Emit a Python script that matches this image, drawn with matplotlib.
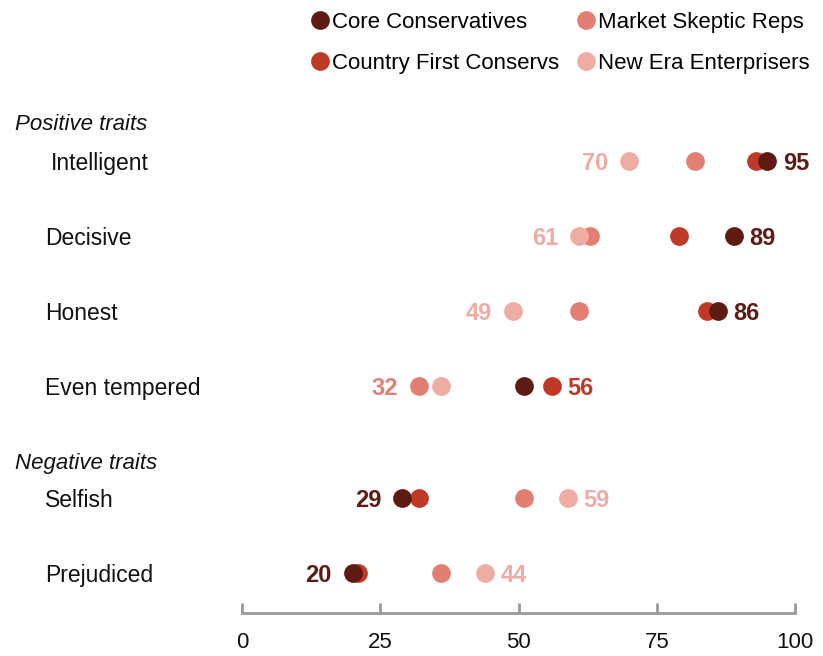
import matplotlib.pyplot as plt
from matplotlib.lines import Line2D
from matplotlib.transforms import blended_transform_factory

plt.rcParams['font.family'] = ['Liberation Sans', 'DejaVu Sans']

traits = ["Intelligent", "Decisive", "Honest", "Even tempered", "Selfish", "Prejudiced"]
groups = ["Core Conservatives", "Country First Conservs", "Market Skeptic Reps", "New Era Enterprisers"]
colors = ["#5e1a13", "#be3a26", "#e37f72", "#eeaca3"]

core = [95, 89, 86, 51, 29, 20]
country_first = [93, 79, 84, 56, 32, 21]
market_skeptic = [82, 63, 61, 32, 51, 36]
new_era = [70, 61, 49, 36, 59, 44]
values = [core, country_first, market_skeptic, new_era]

# row positions: positive block, then a gap before negative block
ypos = [0, 1, 2, 3, 4.5, 5.5]
headers = [("Positive traits", -0.52), ("Negative traits", 4.0)]

fig = plt.figure(figsize=(8.23, 6.56), dpi=100)
ax = fig.add_axes([242 / 823, 43 / 656, 553 / 823, 513 / 656])

draw_order = [2, 3, 1, 0]
for z, g in enumerate(draw_order):
    ax.plot(values[g], ypos, "o", color=colors[g], markersize=13.5,
            markeredgewidth=0, linestyle="none", zorder=3 + z)

# value labels: lowest on the left, highest on the right
for i in range(len(traits)):
    row = [v[i] for v in values]
    lo = row.index(min(row))
    hi = row.index(max(row))
    ax.annotate(str(row[lo]), (row[lo], ypos[i]), xytext=(-15, 0), textcoords="offset points",
                ha="right", va="center_baseline", fontsize=17, fontweight="bold", color=colors[lo])
    ax.annotate(str(row[hi]), (row[hi], ypos[i]), xytext=(11, 0), textcoords="offset points",
                ha="left", va="center_baseline", fontsize=17, fontweight="bold", color=colors[hi])

trans = blended_transform_factory(fig.transFigure, ax.transData)
for i, t in enumerate(traits):
    x = 51 / 823 if t == "Intelligent" else 45 / 823
    ax.text(x, ypos[i], t, transform=trans, ha="left", va="center_baseline",
            fontsize=16.5, color="#111111")
for h, y in headers:
    ax.text(15 / 823, y, h, transform=trans, ha="left", va="center_baseline", fontsize=16,
            style="italic", color="#111111")

ax.set_xlim(0, 100)
ax.set_ylim(6.03, -0.813)
ax.set_xticks([0, 25, 50, 75, 100])
ax.set_yticks([])
for s in ["top", "left", "right"]:
    ax.spines[s].set_visible(False)
ax.spines["bottom"].set_color("#999999")
ax.spines["bottom"].set_linewidth(2)
ax.tick_params(axis="x", direction="in", length=7, width=2, color="#999999",
               labelsize=16, labelcolor="#111111", pad=14)

handles = [Line2D([], [], marker="o", linestyle="none", markersize=13.5,
                  markeredgewidth=0, color=c) for c in colors]
fig.legend(handles, groups, ncol=2, loc="upper left", bbox_to_anchor=(303 / 823, 0.996),
           frameon=False, fontsize=16, handlelength=0.7, handletextpad=0.2,
           columnspacing=0.85, labelspacing=0.92, borderaxespad=0)

fig.savefig("out.png", dpi=100)
